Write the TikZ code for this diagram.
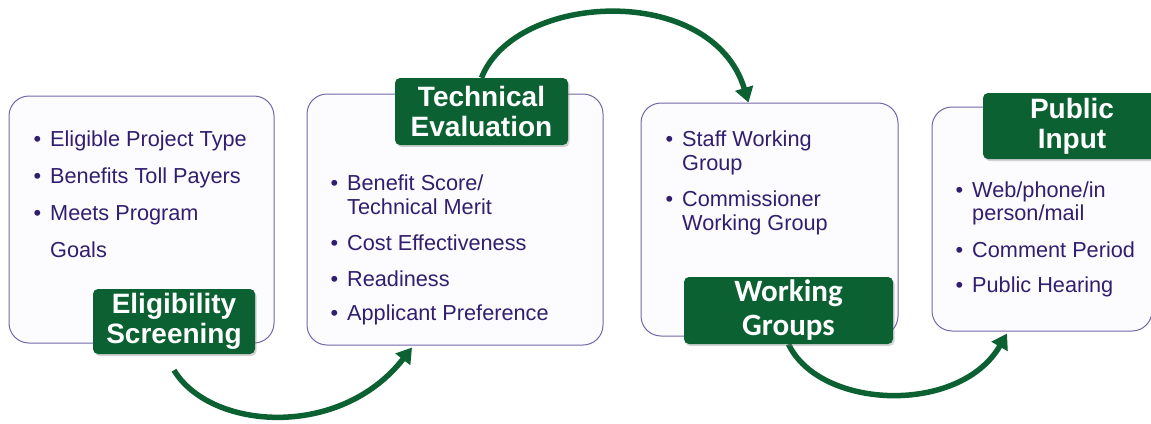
\documentclass[tikz,border=0pt]{standalone}
\usepackage{fontspec}
\setmainfont{Liberation Sans}
\newfontfamily\carlito{Carlito}
\usetikzlibrary{arrows.meta,shadows,backgrounds}
\definecolor{tgreen}{RGB}{12,97,51}
\definecolor{ipurple}{RGB}{50,30,110}
\definecolor{bpurple}{RGB}{118,102,168}
\newcommand{\bul}{\llap{\textbullet\hspace{9pt}}}
\tikzset{
  card/.style={draw=bpurple, line width=1pt, fill=blue!1!white, rounded corners=20pt, inner sep=0pt},
  tag/.style={fill=tgreen, text=white, rounded corners=5pt, align=center, inner sep=0pt,
    font=\bfseries\fontsize{28}{30}\selectfont,
    drop shadow={opacity=0.35, shadow xshift=1.5pt, shadow yshift=-2pt}},
  itm/.style={anchor=base west, inner sep=0pt, text=ipurple, font=\fontsize{21.7}{24}\selectfont},
  flow/.style={draw=tgreen, line width=5.5pt, -{Triangle[length=15pt,width=18pt]}}
}
\begin{document}
\begin{tikzpicture}[x=1pt,y=-1pt]
  \useasboundingbox (0,0) rectangle (1151,423);

  % cards
  \node[card, minimum width=265pt, minimum height=247pt] (screenbox) at (141.5,219.5) {};
  \node[card, minimum width=296pt, minimum height=251pt] (evalbox) at (455,219.5) {};
  \node[card, minimum width=257pt, minimum height=233pt] (groupbox) at (769.5,219.5) {};
  \node[card, minimum width=220pt, minimum height=224pt] (inputbox) at (1042,219) {};

  % bullet items
  \foreach \px/\py/\t [count=\i] in {
      50/146/{\bul Eligible Project Type}, 50/183/{\bul Benefits Toll Payers},
      50/220/{\bul Meets Program}, 50/257/{Goals},
      347/190/{\bul Benefit Score/}, 347/214/{Technical Merit},
      347/250/{\bul Cost Effectiveness}, 347/286/{\bul Readiness},
      347/320/{\bul Applicant Preference},
      682/146/{\bul Staff Working}, 682/170/{Group},
      682/206/{\bul Commissioner}, 682/230/{Working Group},
      972/197/{\bul Web/phone/in}, 972/220/{person/mail},
      972/257/{\bul Comment Period}, 972/292/{\bul Public Hearing}}
    \node[itm] (item\i) at (\px,\py) {\t};

  % stage tags
  \node[tag, minimum width=162pt, minimum height=65pt] (screen) at (174,321.5) {Eligibility\\Screening};
  \node[tag, minimum width=173pt, minimum height=67pt] (eval) at (481.5,111.5) {Technical\\Evaluation};
  \node[tag, minimum width=209pt, minimum height=67pt,
    font=\carlito\bfseries\fontsize{31}{34}\selectfont] (group) at (788.5,310.5) {Working\\Groups};
  \node[tag, minimum width=178pt, minimum height=66pt] (input) at (1072,126) {Public\\Input};

  % arrows
  \begin{scope}[on background layer]
    \draw[flow] ([yshift=-16pt]screen.south) .. controls (210,430) and (340,440) .. ([xshift=-43pt,yshift=-2pt]evalbox.south);
    \draw[flow] (eval.north) .. controls (515,-8) and (712,-18) .. ([xshift=-21pt]groupbox.north);
    \draw[flow] (group.south) .. controls (820,410) and (960,415) .. ([xshift=-35pt,yshift=-2pt]inputbox.south);
  \end{scope}
\end{tikzpicture}
\end{document}
